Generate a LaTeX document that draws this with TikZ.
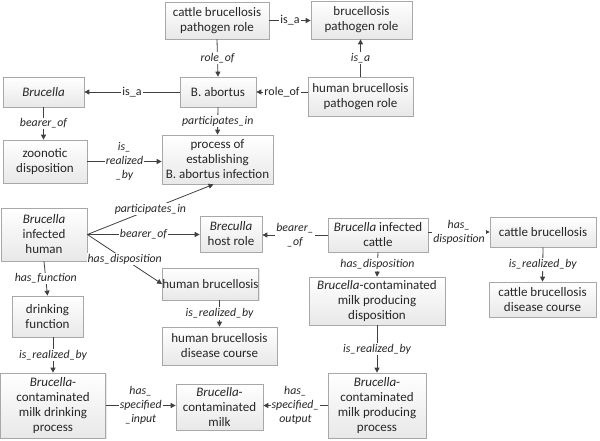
\documentclass[tikz,border=0pt]{standalone}
\usepackage{fontspec}
\setmainfont{Carlito}
\usetikzlibrary{arrows.meta,shadows,calc}
\definecolor{boxline}{HTML}{A8A8A8}
\definecolor{arrowc}{HTML}{404040}
\definecolor{txt}{HTML}{262626}
\tikzset{
  box/.style={draw=boxline, line width=0.7pt, top color=white, bottom color=black!9,
    drop shadow={shadow xshift=1pt, shadow yshift=-1pt, opacity=0.18},
    align=center, inner sep=0pt, text=txt,
    font=\fontsize{13}{15}\selectfont},
  rel/.style={draw=arrowc, line width=0.8pt, -{Triangle[length=5pt,width=5pt]}},
  lab/.style={fill=white, inner sep=1pt, align=center, text=txt,
    font=\itshape\fontsize{11.8}{14}\selectfont},
  uplab/.style={lab, font=\fontsize{12}{14}\selectfont}
}
\begin{document}
\begin{tikzpicture}[x=1pt,y=-1pt]
\useasboundingbox (0,0) rectangle (600,441);
% boxes
\node[box, minimum width=104pt, minimum height=37pt] (cbpr) at (217,20.5) {cattle brucellosis\\pathogen role};
\node[box, minimum width=101pt, minimum height=38pt] (bpr) at (361.5,20) {brucellosis\\pathogen role};
\node[box, minimum width=105pt, minimum height=39pt] (hbpr) at (360.5,96.5) {human brucellosis\\pathogen role};
\node[box, minimum width=76pt, minimum height=30pt] (babort) at (218,92) {B. abortus};
\node[box, minimum width=81pt, minimum height=30pt] (brucella) at (43.5,92) {\textit{Brucella}};
\node[box, minimum width=84pt, minimum height=43pt] (zoon) at (45,161.5) {zoonotic\\disposition};
\node[box, minimum width=111pt, minimum height=49pt] (proc) at (217.5,159.5) {process of\\establishing\\B. abortus infection};
\node[box, minimum width=86pt, minimum height=53pt] (bih) at (44,234.5) {\textit{Brucella}\\infected\\human};
\node[box, minimum width=62pt, minimum height=36pt] (bhr) at (231,234) {\textit{Breculla}\\host role};
\node[box, minimum width=83pt, minimum height=32pt] (hb) at (210.5,284) {human brucellosis};
\node[box, minimum width=100pt, minimum height=34pt] (bic) at (378,235) {\textit{Brucella} infected\\cattle};
\node[box, minimum width=106pt, minimum height=30pt] (cb) at (543,232) {cattle brucellosis};
\node[box, minimum width=136pt, minimum height=48pt] (bcmpd) at (377,301) {\textit{Brucella}-contaminated\\milk producing\\disposition};
\node[box, minimum width=107pt, minimum height=35pt] (cbdc) at (542.5,299.5) {cattle brucellosis\\disease course};
\node[box, minimum width=71pt, minimum height=41pt] (df) at (47.5,316.5) {drinking\\function};
\node[box, minimum width=115pt, minimum height=38pt] (hbdc) at (219.5,346) {human brucellosis\\disease course};
\node[box, minimum width=105pt, minimum height=65pt] (bcmdp) at (53,405.5) {\textit{Brucella}-\\contaminated\\milk drinking\\process};
\node[box, minimum width=87pt, minimum height=46pt] (bcm) at (219.5,407) {\textit{Brucella}-\\contaminated\\milk};
\node[box, minimum width=98pt, minimum height=65pt] (bcmpp) at (377,405.5) {\textit{Brucella}-\\contaminated\\milk producing\\process};
% connectors
\draw[rel] (cbpr.east) -- (cbpr.east -| bpr.west) node[uplab, midway] {is\_a};
\draw[rel] (cbpr.south) -- (babort.north) node[lab, midway] {role\_of};
\draw[rel] (hbpr.north) -- (hbpr.north |- bpr.south) node[lab, midway] {is\_a};
\draw[rel] (hbpr.west |- babort.east) -- (babort.east) node[uplab, midway] {role\_of};
\draw[rel] (babort.west) -- (brucella.east) node[uplab, midway] {is\_a};
\draw[rel] (brucella.south) -- (brucella.south |- zoon.north) node[lab, midway] {bearer\_of};
\draw[rel] (babort.south) -- (proc.north) node[lab, midway] {participates\_in};
\draw[rel] (zoon.east) -- (zoon.east -| proc.west) node[lab, midway] {is\_\\realized\\\_by};
\draw[rel] (bih.east) -- ($(proc.south)+(-4,0)$) node[lab, midway] {participates\_in};
\draw[rel] (bih.east) -- (bih.east -| bhr.west) node[lab, midway] {bearer\_of};
\draw[rel] (bih.east) -- (hb.west) node[lab, midway] {has\_disposition};
\draw[rel] (bic.west) -- (bic.west -| bhr.east) node[lab, midway] {bearer\_\\\_of};
\draw[rel] (bic.east |- cb.west) -- (cb.west) node[lab, midway] {has\_\\disposition};
\draw[rel] (bic.south) -- (bcmpd.north) node[lab, midway] {has\_disposition};
\draw[rel] (cb.south) -- (cbdc.north) node[lab, midway] {is\_realized\_by};
\draw[rel] (hbdc.north |- hb.south) -- (hbdc.north) node[lab, midway] {is\_realized\_by};
\draw[rel] (bih.south) -- (df.north) node[lab, midway] {has\_function};
\draw[rel] (df.south -| bcmdp.north) -- (bcmdp.north) node[lab, midway] {is\_realized\_by};
\draw[rel] (bcmdp.east) -- (bcmdp.east -| bcm.west) node[lab, midway] {has\_\\specified\\\_input};
\draw[rel] (bcmpp.west) -- (bcmpp.west -| bcm.east) node[lab, midway] {has\_\\specified\_\\output};
\draw[rel] (bcmpd.south) -- (bcmpp.north) node[lab, midway] {is\_realized\_by};
\end{tikzpicture}
\end{document}
